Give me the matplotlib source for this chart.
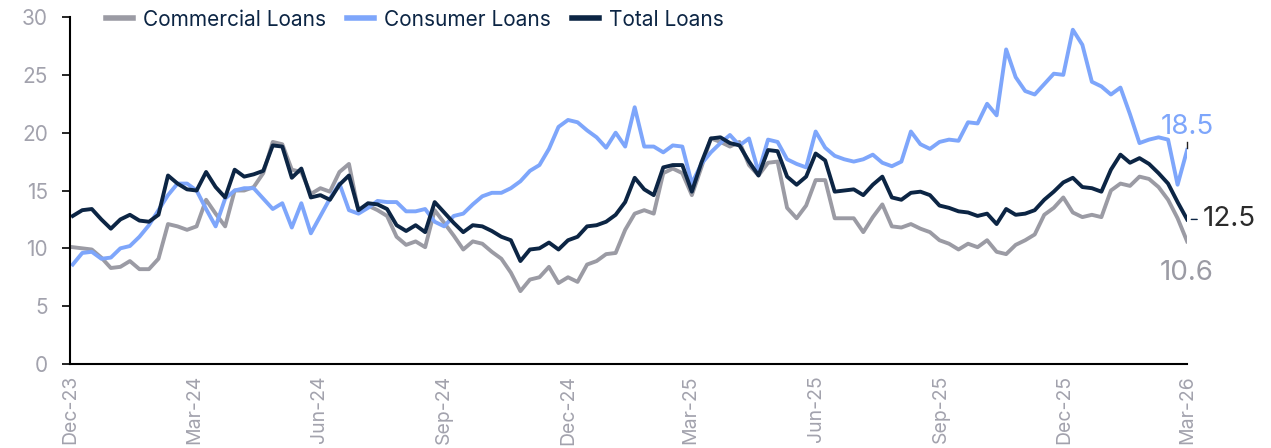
import numpy as np
import pandas as pd
import matplotlib
matplotlib.use("Agg")
import matplotlib.pyplot as plt
import matplotlib.dates as mdates

plt.rcParams['font.family'] = ['Inter', 'DejaVu Sans']

dates = pd.date_range(end="2026-03-01", periods=118, freq="7D")

commercial = [10.1, 10.0, 9.9, 9.2, 8.3, 8.4, 8.9, 8.2, 8.2, 9.1,
              12.1, 11.9, 11.6, 11.9, 14.2, 13.0, 11.9, 15.0, 15.0, 15.3,
              16.5, 19.2, 19.0, 16.8, 16.6, 14.7, 15.2, 14.9, 16.6, 17.3,
              13.2, 13.7, 13.3, 12.8, 11.0, 10.3, 10.6, 10.1, 13.3, 12.2,
              11.1, 9.9, 10.6, 10.4, 9.7, 9.1, 7.9, 6.3, 7.3, 7.5,
              8.4, 7.0, 7.5, 7.1, 8.6, 8.9, 9.5, 9.6, 11.6, 13.0,
              13.3, 13.0, 16.5, 16.9, 16.5, 14.6, 17.0, 19.5, 19.2, 18.8,
              19.2, 17.2, 16.3, 17.4, 17.5, 13.5, 12.6, 13.7, 15.9, 15.9,
              12.6, 12.6, 12.6, 11.4, 12.7, 13.8, 11.9, 11.8, 12.1, 11.7,
              11.4, 10.7, 10.4, 9.9, 10.4, 10.1, 10.7, 9.7, 9.5, 10.3,
              10.7, 11.2, 12.9, 13.5, 14.4, 13.1, 12.7, 12.9, 12.7, 15.0,
              15.6, 15.4, 16.2, 16.0, 15.3, 14.2, 12.6, 10.6]

consumer = [8.6, 9.6, 9.7, 9.1, 9.2, 10.0, 10.2, 11.0, 12.0, 13.3,
            14.6, 15.6, 15.6, 15.0, 13.4, 11.9, 14.3, 15.0, 15.2, 15.2,
            14.3, 13.4, 13.9, 11.8, 13.9, 11.3, 12.8, 14.3, 15.6, 13.3,
            13.0, 13.5, 14.1, 14.0, 14.0, 13.2, 13.2, 13.4, 12.3, 11.9,
            12.8, 13.0, 13.8, 14.5, 14.8, 14.8, 15.2, 15.8, 16.7, 17.2,
            18.6, 20.5, 21.1, 20.9, 20.2, 19.6, 18.7, 20.0, 18.8, 22.2,
            18.8, 18.8, 18.3, 18.9, 18.8, 15.6, 17.3, 18.3, 19.1, 19.8,
            18.9, 19.5, 16.6, 19.4, 19.2, 17.7, 17.3, 17.0, 20.1, 18.7,
            18.0, 17.7, 17.5, 17.7, 18.1, 17.4, 17.1, 17.5, 20.1, 19.0,
            18.6, 19.2, 19.4, 19.3, 20.9, 20.8, 22.5, 21.5, 27.2, 24.8,
            23.6, 23.3, 24.2, 25.1, 25.0, 28.9, 27.6, 24.4, 24.0, 23.3,
            23.9, 21.6, 19.1, 19.4, 19.6, 19.4, 15.5, 18.5]

total = [12.8, 13.3, 13.4, 12.5, 11.7, 12.5, 12.9, 12.4, 12.3, 12.9,
         16.3, 15.6, 15.1, 15.0, 16.6, 15.3, 14.4, 16.8, 16.2, 16.4,
         16.7, 18.9, 18.8, 16.1, 16.9, 14.4, 14.6, 14.2, 15.5, 16.3,
         13.3, 13.9, 13.8, 13.4, 12.0, 11.5, 12.0, 11.4, 14.0, 13.1,
         12.2, 11.4, 12.0, 11.9, 11.5, 11.0, 10.7, 8.9, 9.9, 10.0,
         10.5, 9.9, 10.7, 11.0, 11.9, 12.0, 12.3, 12.9, 14.0, 16.1,
         15.1, 14.6, 17.0, 17.2, 17.2, 14.9, 17.4, 19.5, 19.6, 19.1,
         18.9, 17.5, 16.3, 18.5, 18.4, 16.2, 15.5, 16.2, 18.2, 17.6,
         14.9, 15.0, 15.1, 14.6, 15.5, 16.2, 14.4, 14.2, 14.8, 14.9,
         14.6, 13.7, 13.5, 13.2, 13.1, 12.8, 13.0, 12.1, 13.4, 12.9,
         13.0, 13.3, 14.2, 14.9, 15.7, 16.1, 15.3, 15.2, 14.9, 16.8,
         18.1, 17.4, 17.8, 17.3, 16.5, 15.6, 14.0, 12.5]

tick_dates = pd.to_datetime(["2023-12-01", "2024-03-01", "2024-06-01", "2024-09-01",
                             "2024-12-01", "2025-03-01", "2025-06-01", "2025-09-01",
                             "2025-12-01", "2026-03-01"])

c_gray = "#9b9ba4"
c_blue = "#7ea6fb"
c_navy = "#0c2544"
c_tick = "#a2a2ad"

fig = plt.figure(figsize=(12.71, 4.48), dpi=100)
ax = fig.add_axes([0.0551, 0.1875, 0.8789, 0.7745])

ax.plot(dates, commercial, color=c_gray, lw=2.8, label="Commercial Loans", solid_joinstyle="round")
ax.plot(dates, consumer, color=c_blue, lw=2.8, label="Consumer Loans", solid_joinstyle="round")
ax.plot(dates, total, color=c_navy, lw=2.8, label="Total Loans", solid_joinstyle="round")

ax.set_ylim(0, 30)
ax.set_yticks(range(0, 31, 5))
ax.set_xlim(pd.Timestamp("2023-12-01"), pd.Timestamp("2026-03-01"))
ax.set_xticks(tick_dates)
ax.xaxis.set_major_formatter(mdates.DateFormatter("%b-%y"))
ax.tick_params(axis="x", length=0, labelrotation=90, labelsize=14, labelcolor=c_tick, pad=8)
ax.tick_params(axis="y", length=6, width=1.2, labelsize=15, labelcolor=c_tick, pad=10)

for s in ["top", "right"]:
    ax.spines[s].set_visible(False)
ax.spines["left"].set_linewidth(1.5)
ax.spines["bottom"].set_linewidth(1.5)

leg = ax.legend(loc="upper left", bbox_to_anchor=(0.015, 1.075), ncol=3, frameon=False,
                fontsize=15, handlelength=1.3, columnspacing=1.0, handletextpad=0.5)
for t in leg.get_texts():
    t.set_color(c_navy)
for h in leg.get_lines():
    h.set_linewidth(4)

end = dates[-1]
ax.annotate(f"{consumer[-1]:.1f}", xy=(end, consumer[-1]), xytext=(end, 20.5),
            ha="center", va="center", fontsize=20, color=c_blue, annotation_clip=False)
ax.plot([end, end], [18.7, 19.2], color="#222222", lw=1, clip_on=False)
ax.annotate(f"{total[-1]:.1f}", xy=(end, total[-1]), xytext=(1.014, total[-1]),
            textcoords=("axes fraction", "data"), ha="left", va="center",
            fontsize=20, color="#2b2b2b", annotation_clip=False,
            arrowprops=dict(arrowstyle="-", color=c_navy, lw=1, shrinkA=2, shrinkB=3))
ax.annotate(f"{commercial[-1]:.1f}", xy=(end, commercial[-1]), xytext=(end, 7.9),
            ha="center", va="center", fontsize=20, color=c_gray, annotation_clip=False)

fig.savefig("out.png", dpi=100)
